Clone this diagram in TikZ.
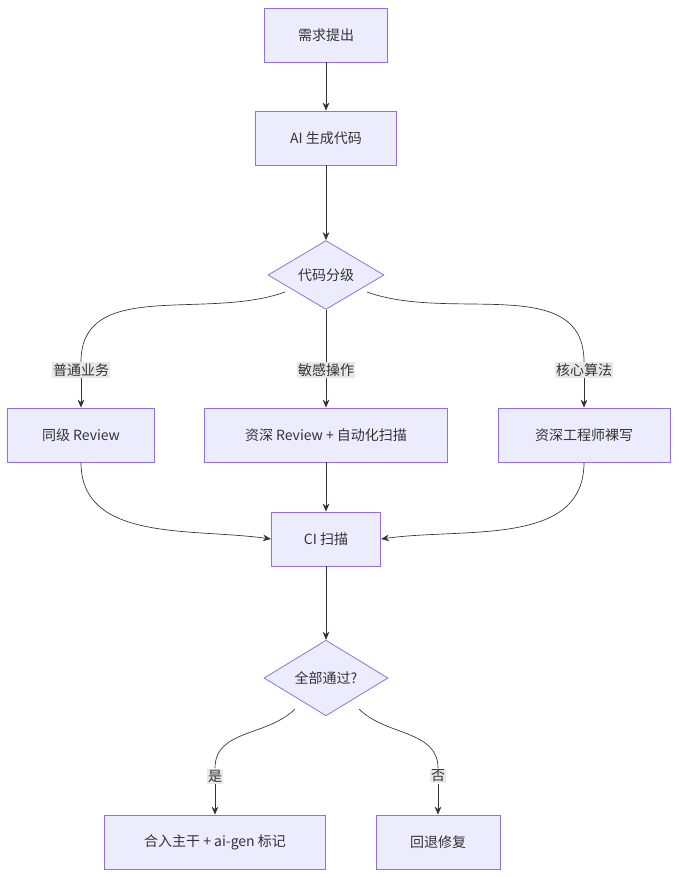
\documentclass[tikz,border=0pt]{standalone}
\usepackage{fontspec}
\setmainfont{Noto Sans CJK SC}
\usetikzlibrary{shapes.geometric,arrows.meta}
\definecolor{boxfill}{HTML}{ECECFF}
\definecolor{boxline}{HTML}{9370DB}
\definecolor{edgeline}{HTML}{333333}
\definecolor{labfill}{HTML}{E8E8E8}
\tikzset{
  box/.style={draw=boxline, fill=boxfill, line width=0.6pt, minimum height=40.5pt, inner sep=0pt, font=\fontsize{10.5}{12}\selectfont, text=edgeline},
  choice/.style={draw=boxline, fill=boxfill, line width=0.6pt, diamond, aspect=1, inner sep=0pt, font=\fontsize{10.5}{12}\selectfont, text=edgeline},
  lab/.style={fill=labfill, inner sep=1pt, font=\fontsize{10.5}{12}\selectfont, text=edgeline},
  flow/.style={draw=edgeline, line width=0.5pt, -{Stealth[length=6pt,width=5pt]}},
  plain/.style={draw=edgeline, line width=0.5pt}
}
\begin{document}
\begin{tikzpicture}[x=0.75pt,y=-0.75pt]
      \useasboundingbox (0,0) rectangle (678,877);
      \node[box, minimum width=92pt] (req)  at (326,35)  {需求提出};
      \node[box, minimum width=106pt] (gen)  at (326,138) {AI 生成代码};
      \node[choice, minimum width=87pt] (cls) at (326,275) {代码分级};
      \node[box, minimum width=110pt] (peer) at (81,435)  {同级 Review};
      \node[box, minimum width=182pt] (sen)  at (326,435) {资深 Review + 自动化扫描};
      \node[box, minimum width=129pt] (core) at (584,435) {资深工程师裸写};
      \node[box, minimum width=82pt] (ci)   at (326,539) {CI 扫描};
      \node[choice, minimum width=93pt] (pass) at (326,678) {全部通过?};
      \node[box, minimum width=166pt] (merge) at (215,842) {合入主干 + ai-gen 标记};
      \node[box, minimum width=93pt] (back) at (438,842) {回退修复};

      \node[lab] (l1) at (81,370)  {普通业务};
      \node[lab] (l2) at (326,370) {敏感操作};
      \node[lab] (l3) at (584,370) {核心算法};
      \node[lab] (l4) at (215,776) {是};
      \node[lab] (l5) at (438,776) {否};

      \draw[flow] (req) -- (gen);
      \draw[flow] (gen) -- (cls);
      \draw[plain] (cls.north west) ++(0,0) (285,292) to[out=-160,in=90] (l1.north);
      \draw[flow] (l1) -- (peer);
      \draw[plain] (cls) -- (l2);
      \draw[flow] (l2) -- (sen);
      \draw[plain] (367,292) to[out=-20,in=90] (l3.north);
      \draw[flow] (l3) -- (core);
      \draw[flow] (peer.south) to[out=-90,in=172] (ci.west);
      \draw[flow] (sen) -- (ci);
      \draw[flow] (core.south) to[out=-90,in=8] (ci.east);
      \draw[flow] (ci) -- (pass);
      \draw[plain] (295,709) to[out=-135,in=90] (l4.north);
      \draw[flow] (l4) -- (merge);
      \draw[plain] (359,709) to[out=-45,in=90] (l5.north);
      \draw[flow] (l5) -- (back);
\end{tikzpicture}
\end{document}
